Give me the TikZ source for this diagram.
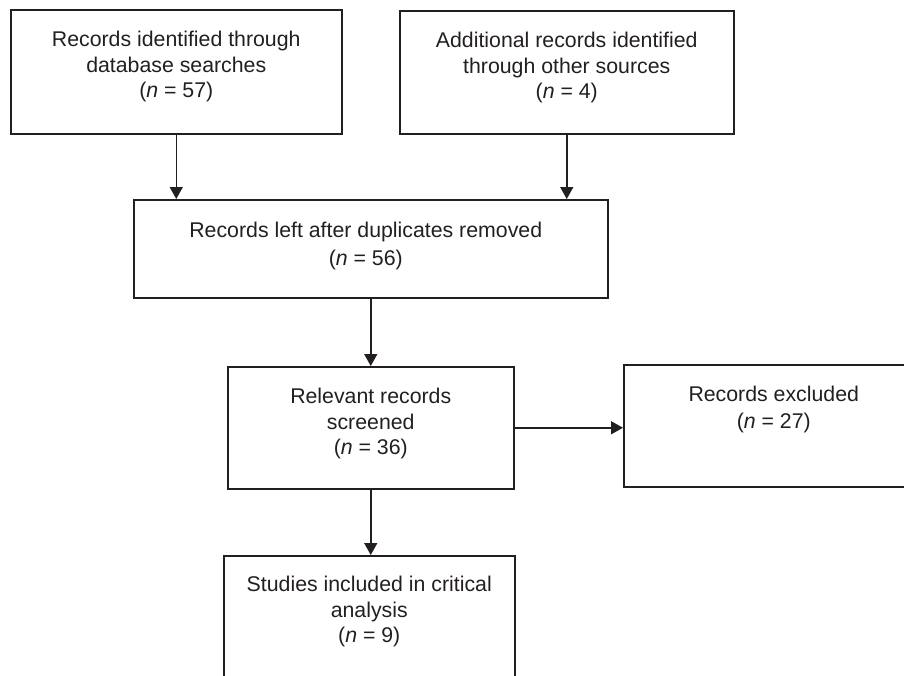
\documentclass[tikz,border=0pt]{standalone}
\usepackage{fontspec}
\setmainfont{Liberation Sans}
\usetikzlibrary{arrows.meta}
\definecolor{ink}{RGB}{35,31,32}
\begin{document}
\begin{tikzpicture}[x=1pt,y=-1pt,
  box/.style={draw=ink, line width=1.5pt, inner sep=0pt, rectangle, anchor=north west},
  txt/.style={anchor=north, inner sep=0pt, align=center, font=\fontsize{21.3}{25.5}\selectfont, text=ink},
  arr/.style={draw=ink, line width=1.5pt, -{Triangle[length=12pt,width=13pt]}}]
\useasboundingbox (0,0) rectangle (904,675);
\clip (0,0) rectangle (904,675);
\node[box, minimum width=331pt, minimum height=124pt] (b1) at (10,9) {};
\node[box, minimum width=334pt, minimum height=123pt] (b2) at (399,10) {};
\node[box, minimum width=474pt, minimum height=98pt] (b3) at (133,199) {};
\node[box, minimum width=286pt, minimum height=122pt] (b4) at (227,366) {};
\node[box, minimum width=300pt, minimum height=122pt] (b5) at (623,364) {};
\node[box, minimum width=291pt, minimum height=140pt] (b6) at (223,555) {};
\node[txt] (t1) at ([yshift=-22pt]b1.north) {Records identified through\\database searches\\(\textit{n} = 57)};
\node[txt] (t2) at ([yshift=-22pt]b2.north) {Additional records identified\\through other sources\\(\textit{n} = 4)};
\node[txt, font=\fontsize{21.3}{28}\selectfont] (t3) at ([xshift=-5pt,yshift=-23pt]b3.north) {Records left after duplicates removed\\(\textit{n} = 56)};
\node[txt] (t4) at ([yshift=-22pt]b4.north) {Relevant records\\screened\\(\textit{n} = 36)};
\node[txt, font=\fontsize{21.3}{27}\selectfont] (t5) at ([yshift=-22pt]b5.north) {Records excluded\\(\textit{n} = 27)};
\node[txt] (t6) at ([yshift=-21pt]b6.north) {Studies included in critical\\analysis\\(\textit{n} = 9)};
\draw[arr] (b1.south) -- (b1.south |- b3.north);
\draw[arr] (b2.south) -- (b2.south |- b3.north);
\draw[arr] (b3.south) -- (b4.north);
\draw[arr] (b4.east) -- (b4.east -| b5.west);
\draw[arr] (b4.south) -- (b4.south |- b6.north);
\end{tikzpicture}
\end{document}
